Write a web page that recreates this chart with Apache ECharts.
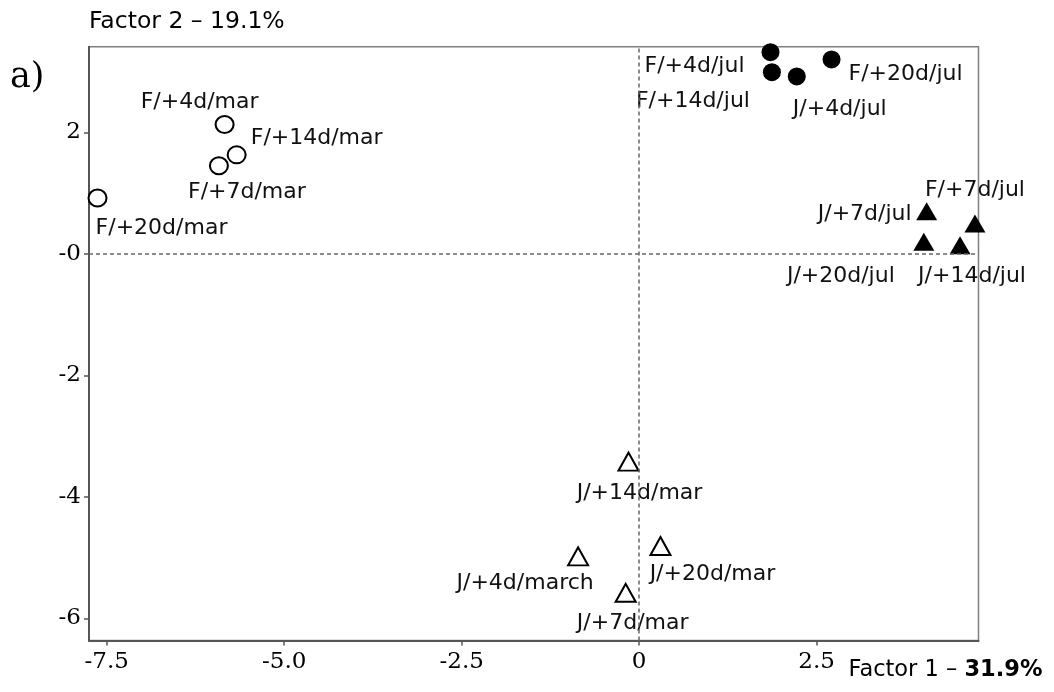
<!DOCTYPE html>
<html>
<head>
<meta charset="utf-8">
<script src="https://cdn.jsdelivr.net/npm/echarts@6/dist/echarts.min.js"></script>
<style>html,body{margin:0;padding:0;background:#fff}#c{width:1054px;height:692px}</style>
</head>
<body>
<div id="c"></div>
<script>
// ---- data ----
var openCircleNames = ['F/+4d/mar', 'F/+14d/mar', 'F/+7d/mar', 'F/+20d/mar'];
var openCircleX = [-5.84, -5.67, -5.92, -7.63];
var openCircleY = [2.13, 1.63, 1.45, 0.92];

var filledCircleNames = ['F/+4d/jul', 'F/+14d/jul', 'J/+4d/jul', 'F/+20d/jul'];
var filledCircleX = [1.85, 1.87, 2.22, 2.71];
var filledCircleY = [3.32, 2.99, 2.92, 3.20];

var filledTriangleNames = ['J/+7d/jul', 'F/+7d/jul', 'J/+20d/jul', 'J/+14d/jul'];
var filledTriangleX = [4.05, 4.73, 4.01, 4.52];
var filledTriangleY = [0.70, 0.50, 0.20, 0.14];

var openTriangleNames = ['J/+14d/mar', 'J/+4d/march', 'J/+20d/mar', 'J/+7d/mar'];
var openTriangleX = [-0.15, -0.86, 0.30, -0.19];
var openTriangleY = [-3.42, -4.98, -4.81, -5.58];

var xTickValues = [-7.5, -5.0, -2.5, 0, 2.5];
var xTickLabels = ['-7.5', '-5.0', '-2.5', '0', '2.5'];
var yTickValues = [2, 0, -2, -4, -6];
var yTickLabels = ['2', '-0', '-2', '-4', '-6'];

// ---- label placement (pixel offsets from marker centre) ----
var openCircleLabelOffsets = [[-25, -22], [80, -17], [28, 27], [64, 30]];
var filledCircleLabelOffsets = [[-76, 14], [-79, 29], [43, 33], [74, 15]];
var filledTriangleLabelOffsets = [[-62, 3], [0, -33], [-83, 35], [12, 31]];
var openTriangleLabelOffsets = [[11, 32], [-53, 27], [52, 28], [7, 30]];

var SANS = 'DejaVu Sans';
var SERIF = 'DejaVu Serif';

function buildData(names, xs, ys, offsets) {
  return names.map(function (n, i) {
    return { name: n, value: [xs[i], ys[i]], label: { offset: offsets[i] } };
  });
}

var labelCfg = {
  show: true, position: 'inside', formatter: '{b}',
  color: '#111', fontFamily: SANS, fontSize: 22
};

var chart = echarts.init(document.getElementById('c'), null, { renderer: 'canvas' });
chart.setOption({
  animation: false,
  backgroundColor: '#fff',
  grid: {
    left: 89, right: 75.5, top: 46.7, bottom: 51.5,
    show: true, borderColor: '#808080', borderWidth: 1.5, backgroundColor: 'transparent'
  },
  graphic: [
    { type: 'text', left: 10, top: 60,
      style: { text: 'a)', fontFamily: SERIF, fontSize: 35, fill: '#000' } }
  ],
  xAxis: {
    type: 'value', min: -7.75, max: 4.78,
    name: 'Factor 1 \u2013 {b|31.9%}',
    nameLocation: 'end', nameGap: -130,
    nameTextStyle: {
      align: 'left', verticalAlign: 'top', padding: [18, 0, 0, 0],
      fontFamily: SANS, fontSize: 22.5, color: '#000',
      rich: { b: { fontFamily: SANS, fontSize: 22.5, fontWeight: 'bold', color: '#000' } }
    },
    axisLine: { show: true, onZero: false, lineStyle: { color: '#555', width: 2 } },
    axisTick: { show: true, inside: false, length: 5, customValues: xTickValues,
      lineStyle: { color: '#555', width: 1.5 } },
    axisLabel: {
      customValues: xTickValues, margin: 10,
      fontFamily: SERIF, fontSize: 23, color: '#000',
      formatter: function (v) {
        var i = xTickValues.indexOf(v);
        return i >= 0 ? xTickLabels[i] : '';
      }
    },
    splitLine: { show: false }
  },
  yAxis: {
    type: 'value', min: -6.365, max: 3.41,
    name: 'Factor 2 \u2013 19.1%',
    nameLocation: 'end', nameGap: 13,
    nameTextStyle: { align: 'left', fontFamily: SANS, fontSize: 23.5, color: '#000' },
    axisLine: { show: true, onZero: false, lineStyle: { color: '#555', width: 2 } },
    axisTick: { show: true, inside: false, length: 5, customValues: yTickValues,
      lineStyle: { color: '#555', width: 1.5 } },
    axisLabel: {
      customValues: yTickValues, margin: 8,
      fontFamily: SERIF, fontSize: 23, color: '#000',
      formatter: function (v) {
        var i = yTickValues.indexOf(v);
        return i >= 0 ? yTickLabels[i] : '';
      }
    },
    splitLine: { show: false }
  },
  series: [
    {
      type: 'scatter', name: 'open circles',
      symbol: 'circle', symbolSize: [18, 17],
      itemStyle: { color: '#fff', borderColor: '#000', borderWidth: 2, opacity: 1 },
      label: labelCfg,
      data: buildData(openCircleNames, openCircleX, openCircleY, openCircleLabelOffsets),
      markLine: {
        silent: true, symbol: ['none', 'none'], label: { show: false },
        lineStyle: { color: '#666', width: 1.5, type: [4, 3] },
        data: [{ xAxis: 0 }, { yAxis: 0 }],
        animation: false
      },
      z: 3
    },
    {
      type: 'scatter', name: 'filled circles',
      symbol: 'circle', symbolSize: 18,
      itemStyle: { color: '#000', opacity: 1 },
      label: labelCfg,
      data: buildData(filledCircleNames, filledCircleX, filledCircleY, filledCircleLabelOffsets),
      z: 3
    },
    {
      type: 'scatter', name: 'filled triangles',
      symbol: 'triangle', symbolSize: [21, 18],
      itemStyle: { color: '#000', opacity: 1 },
      label: labelCfg,
      data: buildData(filledTriangleNames, filledTriangleX, filledTriangleY, filledTriangleLabelOffsets),
      z: 3
    },
    {
      type: 'scatter', name: 'open triangles',
      symbol: 'triangle', symbolSize: [20, 18],
      itemStyle: { color: '#fff', borderColor: '#000', borderWidth: 2, opacity: 1 },
      label: labelCfg,
      data: buildData(openTriangleNames, openTriangleX, openTriangleY, openTriangleLabelOffsets),
      z: 3
    }
  ]
});
</script>
</body>
</html>
